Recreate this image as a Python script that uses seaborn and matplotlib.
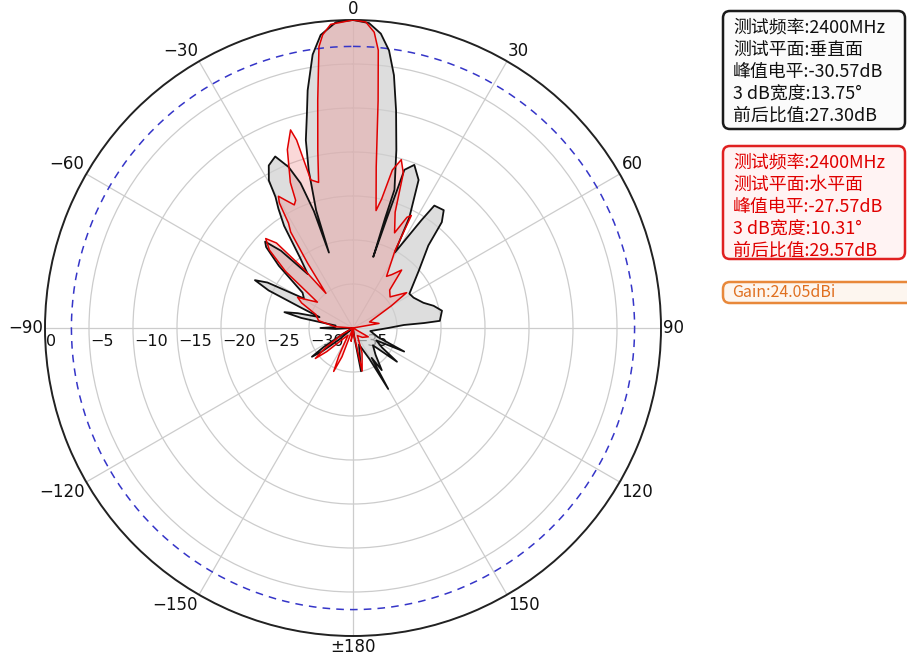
import numpy as np
import matplotlib
matplotlib.use("Agg")
import matplotlib.pyplot as plt
import seaborn as sns
from matplotlib.patches import FancyBboxPatch
from matplotlib.transforms import ScaledTranslation

sns.set_style("white")
plt.rcParams['font.family'] = ['DejaVu Sans']
plt.rcParams['axes.unicode_minus'] = True

# vertical plane pattern (gray), angle in degrees, level in dB
v_angle = [-180, -160, -140, -130, -127, -125, -123, -120, -110, -97, -93, -90, -87, -82,
           -79, -77, -75, -72, -69, -66, -64, -62, -59, -55, -50, -47, -45.5, -43, -40,
           -37, -34, -32, -30.6, -29.7, -27.4, -24.4, -21.8, -19.9, -18.5, -17.7, -17.4,
           -15.7, -14.1, -12.2, -10.8, -8.4, -6.3, -3.2, 0, 3, 5.4, 7.4, 9.2, 11.2, 13.7,
           16.7, 16.3, 15.9, 17.1, 18, 20.6, 23.9, 27, 29, 32.4, 33.6, 37.6, 40, 42.4, 49,
           58.7, 63.4, 70.3, 74.6, 79, 85.3, 86, 86.6, 90, 100, 110, 114.7, 118, 124, 127.5,
           131, 140, 145.7, 148, 150, 152, 160, 169.5, 172, 180]
v_level = [-35, -35, -35, -33, -30.5, -29.3, -31, -34, -35, -35, -33, -31.3, -33, -33,
           -29, -27, -28.5, -31, -29, -24.5, -22.6, -24, -28.5, -28, -24, -21.5, -21, -23, -27,
           -25, -21, -19, -17.7, -15.7, -14.2, -13.6, -15.3, -17.5, -21, -26, -21,
           -16.4, -13, -10.2, -7.5, -3.6, -1.5, -0.2, 0, -0.3, -1.4, -3.2, -5.9, -9.8, -14.2,
           -18.6, -22, -26.6, -22.2, -16.1, -15.2, -16.6, -20.9, -25.2, -20.5, -18.3, -18.1, -19.3, -22.3, -25.1,
           -27.5, -27.3, -26.5, -25.5, -24.7, -25.1, -26.9, -29.2, -31, -33, -32, -28.6, -32, -31, -28.7,
           -32, -31, -29.2, -31, -27, -31, -33, -30, -34, -35]

# horizontal plane pattern (red)
h_angle = [-180, -172, -166, -159, -156, -153, -145, -136, -132, -129, -126, -120, -110, -95,
           -86, -78, -70, -64, -61, -58, -54, -50, -47, -44.3, -42, -40, -38, -35, -33, -31.6,
           -30.5, -29.5, -28, -25.5, -24.2, -23.3, -20.2, -17.5, -16.7, -15.9, -13.3, -11.2,
           -8.8, -6.9, -5.9, -4.2, 0, 2.4, 4.1, 5.2, 6.3, 8.2, 11.1, 12.5, 14, 16, 18, 20,
           23.6, 26, 27.4, 28.5, 33, 36, 40, 44, 50, 56.6, 60, 70, 80, 90, 120, 135, 150,
           160, 168, 172, 180]
h_level = [-35, -33.5, -35, -31.5, -29.6, -31.5, -34, -33, -31, -29.5, -31, -33.5, -35, -35,
           -33, -31, -30.5, -28.5, -27.8, -29, -30, -25, -22, -20.8, -22, -26, -30, -26, -22, -21,
           -18.5, -17.8, -18.5, -19.5, -19.1, -17, -13.4, -11.4, -12.7, -17.5, -18, -14.4,
           -8.8, -2.8, -1.5, -0.4, 0, -0.2, -1.3, -3.3, -9, -16.5, -21.4, -20, -16.5, -15.1, -16.5, -21,
           -23.2, -21, -20.6, -25, -28, -27.5, -26.4, -29, -29.5, -27.7, -30, -33, -32, -35, -33, -33.5, -34,
           -32, -30, -34, -35]

theta_ticks = [0, 30, 60, 90, 120, 150, 180, 210, 240, 270, 300, 330]
theta_labels = ['0', '30', '60', '90', '120', '150', '±180',
                '\u2212150', '\u2212120', '\u221290', '\u221260', '\u221230']
r_ticks = [0, -5, -10, -15, -20, -25, -30, -35]
r_labels = ['0', '\u22125', '\u221210', '\u221215', '\u221220', '\u221225', '\u221230', '\u221235']
half_power = -3

info_v = ['测试频率:2400MHz', '测试平面:垂直面', '峰值电平:-30.57dB', '3 dB宽度:13.75°', '前后比值:27.30dB']
info_h = ['测试频率:2400MHz', '测试平面:水平面', '峰值电平:-27.57dB', '3 dB宽度:10.31°', '前后比值:29.57dB']
gain_text = 'Gain:24.05dBi'

fig = plt.figure(figsize=(9.07, 6.57), dpi=100)
ax = fig.add_axes([45 / 907, 21 / 657, 616 / 907, 616 / 657], projection='polar')
ax.set_theta_zero_location('N')
ax.set_theta_direction(-1)
ax.set_ylim(-35, 0)

vt = np.deg2rad(v_angle)
ht = np.deg2rad(h_angle)

ax.fill(vt, v_level, color='#cfcfcf', alpha=0.7, lw=0, zorder=2)
ax.fill(ht, h_level, color='#f08080', alpha=0.3, lw=0, zorder=2.1)
sns.lineplot(x=vt, y=v_level, sort=False, estimator=None, color='#111111', lw=1.3, ax=ax, zorder=3)
sns.lineplot(x=ht, y=h_level, sort=False, estimator=None, color='#e00000', lw=1.1, ax=ax, zorder=3.1)

ring = np.linspace(0, 2 * np.pi, 361)
ax.plot(ring, np.full(ring.shape, half_power), ls=(0, (5, 4)), color='#3535c8', lw=1.1, zorder=2.5)

ax.set_xlabel('')
ax.set_ylabel('')
ax.set_xticks(np.deg2rad(theta_ticks))
ax.set_xticklabels([])
ax.tick_params(axis='x', length=0)
ax.set_yticks(r_ticks)
ax.set_yticklabels([])
ax.grid(True, color='#cccccc', lw=0.9)
ax.spines['polar'].set_color('#222222')
ax.spines['polar'].set_linewidth(1.4)

# angle labels: corner of the text sits on the outer circle
for t, lab in zip(theta_ticks, theta_labels):
    s, c = np.sin(np.deg2rad(t)), np.cos(np.deg2rad(t))
    ha = 'left' if s > 0.01 else ('right' if s < -0.01 else 'center')
    va = 'bottom' if c > 0.01 else ('top' if c < -0.01 else 'center')
    shift = ScaledTranslation(2 * s / 100, 2 * c / 100, fig.dpi_scale_trans)
    ax.text(np.deg2rad(t), 0, lab, ha=ha, va=va, fontsize=12, color='#111111',
            transform=ax.transData + shift, clip_on=False)

off = ScaledTranslation(1 / 100, -6 / 100, fig.dpi_scale_trans)
for r, lab in zip(r_ticks, r_labels):
    ax.text(np.deg2rad(270), r, lab, ha='left', va='top', fontsize=11.5, color='#111111',
            transform=ax.transData + off, zorder=1)

# info boxes at the right
cjk = ['Noto Sans CJK SC', 'DejaVu Sans']


def info_box(top, bottom, lines, ec, fc, tc, right=905):
    box = FancyBboxPatch((723 / 100, (657 - bottom) / 100), (right - 723) / 100, (bottom - top) / 100,
                         boxstyle='round,pad=0,rounding_size=0.07', transform=fig.dpi_scale_trans,
                         ec=ec, fc=fc, lw=1.8)
    fig.add_artist(box)
    for i, line in enumerate(lines):
        fig.text(733 / 100, (657 - (top + 17 + i * 22)) / 100, line, fontsize=12.9, color=tc,
                 family=cjk, va='center', ha='left', transform=fig.dpi_scale_trans)


info_box(11, 129, info_v, '#1a1a1a', '#fbfbfb', '#111111')
info_box(146, 259, info_h, '#e02020', '#fff3f3', '#e00000')
gbox = FancyBboxPatch((723 / 100, (657 - 303) / 100), 2.0, 0.21,
                      boxstyle='round,pad=0,rounding_size=0.07', transform=fig.dpi_scale_trans,
                      ec='#e8883a', fc='#fdf6ef', lw=1.8)
fig.add_artist(gbox)
fig.text(732 / 100, (657 - 292.5) / 100, gain_text, fontsize=11.5, color='#e07020',
         family=cjk, va='center', ha='left', transform=fig.dpi_scale_trans)

fig.savefig('out.png', dpi=100)
